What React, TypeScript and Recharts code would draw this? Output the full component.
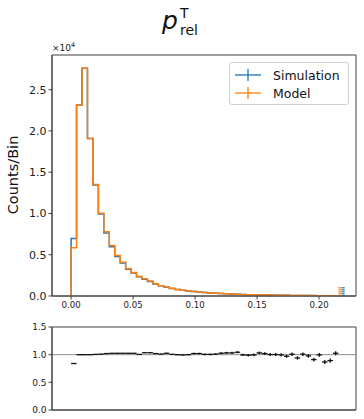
import React from 'react';
import {
  ComposedChart, Line, Scatter, ErrorBar, XAxis, YAxis, ReferenceLine, ReferenceArea,
} from 'recharts';

// 50 bins of width 0.0044 between 0 and 0.22; the last bin is drawn as the overflow spike
const binWidth = 0.0044;

const simCounts = [
  6980, 23150, 27600, 19090, 13440, 9930, 7630, 5970, 4800, 3990,
  3230, 2780, 2340, 2020, 1760, 1450, 1230, 1060, 920, 800,
  700, 615, 540, 475, 420, 370, 330, 290, 260, 230,
  205, 185, 165, 148, 133, 120, 108, 97, 88, 80,
  72, 65, 59, 54, 49, 45, 41, 38, 35,
];

const modelCounts = [
  5860, 23150, 27600, 19090, 13510, 10030, 7780, 6120, 4920, 4090,
  3310, 2850, 2350, 2090, 1820, 1480, 1240, 1090, 925, 800,
  697, 615, 551, 485, 422, 372, 333, 298, 268, 237,
  214, 184, 163, 147, 137, 122, 108, 97, 87, 78,
  73, 61, 59, 53, 45, 45, 36, 34, 36,
];

const overflowSim = 1130;
const overflowModel = 1130;

const ratios = [
  0.84, 1.0, 1.0, 1.0, 1.005, 1.01, 1.02, 1.025, 1.025, 1.025,
  1.025, 1.025, 1.005, 1.035, 1.035, 1.02, 1.01, 1.025, 1.005, 1.0,
  0.995, 1.0, 1.02, 1.02, 1.005, 1.005, 1.01, 1.026, 1.032, 1.032,
  1.044, 0.996, 0.99, 0.996, 1.032, 1.02, 1.002, 1.002, 0.996, 0.972,
  1.008, 0.94, 1.008, 0.978, 0.911, 0.996, 0.868, 0.893, 1.026,
];

const ratioErrors = [
  0.004, 0.002, 0.002, 0.002, 0.003, 0.003, 0.004, 0.004, 0.005, 0.005,
  0.006, 0.006, 0.007, 0.007, 0.008, 0.008, 0.009, 0.01, 0.01, 0.011,
  0.012, 0.012, 0.013, 0.014, 0.015, 0.015, 0.016, 0.017, 0.018, 0.019,
  0.02, 0.021, 0.022, 0.023, 0.024, 0.025, 0.026, 0.027, 0.028, 0.029,
  0.03, 0.031, 0.032, 0.033, 0.034, 0.035, 0.036, 0.037, 0.038,
];

const xTicks = [0, 0.05, 0.1, 0.15, 0.2];
const countTicks = [0, 5000, 10000, 15000, 20000, 25000];
const ratioTicks = [0, 0.5, 1, 1.5];

const BLUE = '#1f77b4';
const ORANGE = '#ff7f0e';
const FRAME = '#404040';
const FONT = '"DejaVu Sans", sans-serif';
const X_DOMAIN = [-0.0154, 0.2298];
const COUNT_MAX = 29200;

const stepRows = [
  { x: 0, sim: 0, model: 0 },
  ...simCounts.map((v, i) => ({ x: i * binWidth, sim: v, model: modelCounts[i] })),
  {
    x: simCounts.length * binWidth,
    sim: simCounts[simCounts.length - 1],
    model: modelCounts[modelCounts.length - 1],
  },
];

// overflow bin: model drawn in the left part, simulation in the right part
const ofLeft = simCounts.length * binWidth;
const ofMid = ofLeft + binWidth * 0.6;
const ofRight = ofLeft + binWidth * 1.15;

const ratioRows = ratios.map((r, i) => ({
  x: (i + 0.5) * binWidth,
  y: r,
  xerr: binWidth / 2,
  yerr: ratioErrors[i],
}));

const noShape = () => <g />;

function stripes(color: string) {
  return (props: any) => {
    const { x, y, width, height } = props;
    const rows = [];
    for (let yy = y + 0.5; yy < y + height; yy += 2) {
      rows.push(<rect key={yy} x={x} y={yy} width={width} height={1.2} fill={color} />);
    }
    return <g>{rows}</g>;
  };
}

function LegendMarker({ color }: { color: string }) {
  return (
    <svg width={30} height={14} style={{ display: 'block' }}>
      <line x1={2} y1={7} x2={28} y2={7} stroke={color} strokeWidth={1.3} />
      <line x1={15} y1={1} x2={15} y2={13} stroke={color} strokeWidth={1.3} />
    </svg>
  );
}

export default function App() {
  const tickStyle = { fontSize: 11, fill: '#222', fontFamily: FONT };
  const smallTick = { fontSize: 8.6, fill: '#222', fontFamily: FONT };

  return (
    <div style={{ position: 'absolute', left: 0, top: 0, width: 364, height: 419, background: '#fff', fontFamily: FONT }}>
      {/* title: p with superscript T and subscript rel */}
      <svg width={364} height={42} style={{ position: 'absolute', left: 0, top: 0 }}>
        <text fontFamily={FONT} fill="#111">
          <tspan x={162} y={29} fontSize={25} fontStyle="italic">p</tspan>
          <tspan x={180} y={18} fontSize={14}>T</tspan>
          <tspan x={180} y={35} fontSize={14}>rel</tspan>
        </text>
      </svg>

      <div style={{ position: 'absolute', left: 52, top: 41, fontSize: 9, color: '#222' }}>
        ×10<sup style={{ fontSize: 6.5 }}>4</sup>
      </div>

      <div
        style={{
          position: 'absolute', left: 13, top: 175, fontSize: 14.5, color: '#111',
          transform: 'translate(-50%, -50%) rotate(-90deg)', whiteSpace: 'nowrap',
        }}
      >
        Counts/Bin
      </div>

      <div style={{ position: 'absolute', left: 0, top: 0 }}>
        <ComposedChart width={364} height={320} data={stepRows} margin={{ top: 55, right: 8, bottom: 0, left: 0 }}>
          <XAxis
            type="number" dataKey="x" domain={X_DOMAIN} ticks={xTicks} allowDataOverflow
            tickFormatter={(v: number) => v.toFixed(2)} tick={smallTick}
            stroke={FRAME} tickSize={3.5} height={24}
          />
          <YAxis
            type="number" domain={[0, COUNT_MAX]} ticks={countTicks} allowDataOverflow
            tickFormatter={(v: number) => (v / 10000).toFixed(1)} tick={tickStyle}
            stroke={FRAME} tickSize={3.5} width={52}
          />
          <ReferenceArea x1={X_DOMAIN[0]} x2={X_DOMAIN[1]} y1={0} y2={COUNT_MAX} fill="none" stroke={FRAME} strokeWidth={1} ifOverflow="visible" />
          <Line type="stepAfter" dataKey="sim" stroke={BLUE} strokeWidth={1.5} dot={false} activeDot={false} isAnimationActive={false} />
          <Line type="stepAfter" dataKey="model" stroke={ORANGE} strokeWidth={1.5} dot={false} activeDot={false} isAnimationActive={false} />
          <ReferenceArea x1={ofLeft} x2={ofMid} y1={0} y2={overflowModel} shape={stripes(ORANGE)} ifOverflow="visible" />
          <ReferenceArea x1={ofMid} x2={ofRight} y1={0} y2={overflowSim} shape={stripes(BLUE)} ifOverflow="visible" />
        </ComposedChart>
      </div>

      {/* legend */}
      <div
        style={{
          position: 'absolute', left: 229, top: 62, width: 120, height: 43,
          border: '1px solid #d0d0d0', borderRadius: 3, background: 'rgba(255,255,255,0.8)',
          boxSizing: 'border-box', padding: '3px 0 0 3px', fontSize: 12.5, color: '#111',
        }}
      >
        {[{ label: 'Simulation', color: BLUE }, { label: 'Model', color: ORANGE }].map((item) => (
          <div key={item.label} style={{ display: 'flex', alignItems: 'center', height: 18 }}>
            <LegendMarker color={item.color} />
            <span style={{ marginLeft: 10 }}>{item.label}</span>
          </div>
        ))}
      </div>

      <div style={{ position: 'absolute', left: 0, top: 320 }}>
        <ComposedChart width={364} height={99} data={ratioRows} margin={{ top: 7, right: 8, bottom: 0, left: 0 }}>
          <XAxis type="number" dataKey="x" domain={X_DOMAIN} allowDataOverflow tick={false} tickLine={false} stroke={FRAME} height={9} />
          <YAxis type="number" domain={[0, 1.5]} ticks={ratioTicks} allowDataOverflow
            tickFormatter={(v: number) => v.toFixed(1)} tick={{ ...smallTick, fontSize: 9 }}
            stroke={FRAME} tickSize={3.5} width={52} />
          <ReferenceArea x1={X_DOMAIN[0]} x2={X_DOMAIN[1]} y1={0} y2={1.5} fill="none" stroke={FRAME} strokeWidth={1} ifOverflow="visible" />
          <ReferenceLine y={1} stroke="#8c8c8c" strokeWidth={1} />
          <Scatter dataKey="y" shape={noShape} isAnimationActive={false}>
            <ErrorBar dataKey="xerr" direction="x" width={0} stroke="#111" strokeWidth={1.3} isAnimationActive={false} />
            <ErrorBar dataKey="yerr" direction="y" width={0} stroke="#111" strokeWidth={1.3} isAnimationActive={false} />
          </Scatter>
        </ComposedChart>
      </div>
    </div>
  );
}
